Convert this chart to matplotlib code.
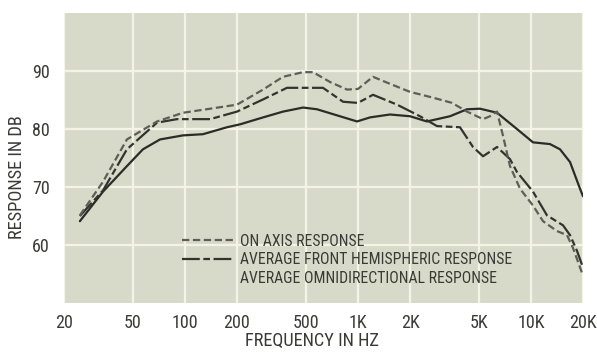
import matplotlib
matplotlib.use("Agg")
import matplotlib.pyplot as plt
from matplotlib.lines import Line2D
from matplotlib import font_manager as fm

# ---- data ----
on_axis_f = [24.7, 33.6, 46.2, 69, 97.5, 140, 200, 283, 369, 482, 550, 690, 865, 1000,
             1222, 1472, 2000, 2717, 3500, 4270, 5285, 5800, 6370, 6900, 7570, 8650,
             10280, 11750, 14150, 16170, 17500, 19730]
on_axis_db = [65.1, 70.9, 78.2, 81.3, 82.8, 83.5, 84.2, 86.8, 89.0, 89.8, 89.8, 88.1, 86.8, 86.9,
              89.0, 88.0, 86.4, 85.4, 84.5, 83.0, 81.7, 82.2, 83.0, 78.8, 73.6, 69.7,
              66.8, 64.1, 62.4, 61.7, 59.5, 55.2]

front_f = [24.7, 33.6, 46.2, 69, 90, 140, 200, 283, 389, 628, 820, 1000, 1222, 1683, 2284,
           2865, 3890, 4625, 5285, 6370, 7570, 8300, 10280, 12390, 15320, 16830, 18460, 19730]
front_db = [65.0, 69.4, 76.5, 81.1, 81.7, 81.7, 83.0, 85.1, 87.1, 87.1, 84.7, 84.5, 85.9, 84.2, 82.2,
            80.5, 80.3, 76.9, 75.3, 76.9, 74.8, 72.6, 69.2, 65.1, 63.4, 61.7, 59.0, 56.6]

omni_f = [24.7, 33.6, 46.2, 57.2, 71.8, 97.5, 127, 175, 208, 283, 369, 482, 580, 787, 988,
          1175, 1532, 2000, 2507, 3406, 4270, 5080, 6370, 8300, 10280, 12890, 14730, 16830,
          19220, 20000]
omni_db = [64.1, 69.2, 73.6, 76.5, 78.2, 78.9, 79.1, 80.3, 80.8, 82.0, 83.0, 83.7, 83.4, 82.2, 81.3,
           82.0, 82.5, 82.2, 81.3, 82.2, 83.4, 83.5, 82.8, 80.0, 77.7, 77.4, 76.5, 74.3,
           69.7, 68.4]

x_ticks = [20, 50, 100, 200, 500, 1000, 2000, 5000, 10000, 20000]
x_tick_labels = ["20", "50", "100", "200", "500", "1K", "2K", "5K", "10K", "20K"]
y_ticks = [60, 70, 80, 90]
series_labels = ["ON AXIS RESPONSE",
                 "AVERAGE FRONT HEMISPHERIC RESPONSE",
                 "AVERAGE OMNIDIRECTIONAL RESPONSE"]

# ---- font: look for a condensed sans face ----
cond_family = None
cond_by_stretch = False
entries = fm.fontManager.ttflist
prefs = ["Liberation Sans Narrow", "Roboto Condensed", "Noto Sans Condensed",
         "Open Sans Condensed", "Arial Narrow", "DejaVu Sans Condensed"]
names = {f.name for f in entries}
for p in prefs:
    if p in names:
        cond_family = p
        break
if cond_family is None:
    for fam in ["Liberation Sans", "Noto Sans", "Roboto", "Open Sans", "DejaVu Sans", "Lato", "Inter"]:
        if any(f.name == fam and str(f.stretch) in ("condensed", "semi-condensed", "extra-condensed")
               for f in entries):
            cond_family = fam
            cond_by_stretch = True
            break
if cond_family is None:
    for f in entries:
        n = f.name
        if ("Narrow" in n or "Condensed" in n or "Cond" in n) and "Mono" not in n and "Serif" not in n:
            cond_family = n
            break

if cond_family is not None:
    plt.rcParams["font.family"] = [cond_family, "DejaVu Sans"]
    if cond_by_stretch:
        plt.rcParams["font.stretch"] = "condensed"
    tick_fs, lab_fs, leg_fs = 13, 13.2, 11.3
else:
    plt.rcParams["font.family"] = ["DejaVu Sans"]
    tick_fs, lab_fs, leg_fs = 11, 10.5, 9.3

text_col = "#3a3a36"
omni_col = "#2b2b28"
front_col = "#33332e"
axis_col = "#5e5e58"
front_ls = (0, (8, 1.6, 3, 1.6))
axis_ls = (0, (3.3, 1.6))

fig = plt.figure(figsize=(5.97, 3.53), dpi=100, facecolor="white")
ax = fig.add_axes([64 / 597, 1 - 303 / 353, 519 / 597, 290 / 353])
ax.set_facecolor("#d7dac9")

ax.set_xscale("log")
ax.set_xlim(20, 20000)
ax.set_ylim(50, 100)

ax.plot(omni_f, omni_db, color=omni_col, lw=1.6, solid_capstyle="round")
ax.plot(front_f, front_db, color=front_col, lw=1.6, linestyle=front_ls)
ax.plot(on_axis_f, on_axis_db, color=axis_col, lw=1.6, linestyle=axis_ls)

ax.set_xticks(x_ticks)
ax.set_xticklabels(x_tick_labels)
ax.minorticks_off()
ax.set_yticks(y_ticks)
ax.tick_params(length=0, labelsize=tick_fs, colors=text_col)
ax.tick_params(axis="x", pad=8)
ax.tick_params(axis="y", pad=10)
ax.grid(True, color="#f3f3e8", lw=1.6)
ax.set_axisbelow(True)
for s in ax.spines.values():
    s.set_visible(False)

ax.set_xlabel("FREQUENCY IN HZ", fontsize=lab_fs, color=text_col)
ax.set_ylabel("RESPONSE IN DB", fontsize=lab_fs, color=text_col)
ax.xaxis.set_label_coords((312 - 64) / 519, (303 - 332) / 290)
ax.yaxis.set_label_coords((26 - 64) / 519, (303 - 177) / 290)

handles = [Line2D([], [], color=axis_col, lw=1.6, linestyle=axis_ls),
           Line2D([], [], color=front_col, lw=1.6, linestyle=front_ls),
           Line2D([], [], color="none", lw=1.6)]
leg = ax.legend(handles, series_labels, loc="upper left", bbox_to_anchor=(0.228, 0.238),
                frameon=False, fontsize=leg_fs, handlelength=3.3, handletextpad=0.4,
                labelspacing=0.21, borderaxespad=0, borderpad=0)
for t in leg.get_texts():
    t.set_color(text_col)

fig.savefig("out.png", dpi=100, facecolor="white")
